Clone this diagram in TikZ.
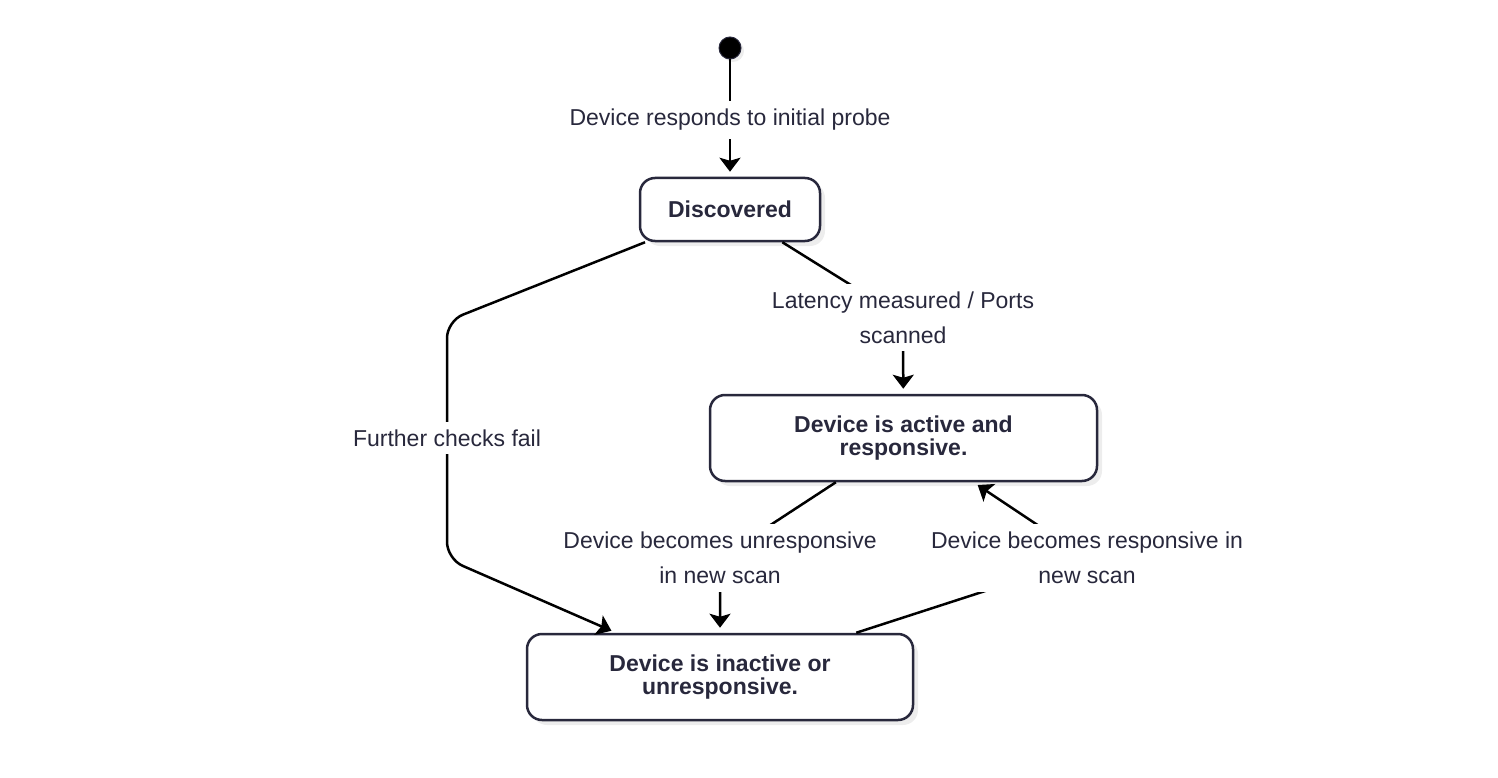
\documentclass[tikz,border=0pt]{standalone}
\usepackage{fontspec}
\setmainfont{Liberation Sans}
\usetikzlibrary{arrows.meta,shadows}
\definecolor{ink}{RGB}{40,40,60}
\begin{document}
\begin{tikzpicture}[x=1pt,y=-1pt,
  state/.style={draw=ink, line width=2.5pt, rounded corners=15pt, fill=white, text=ink,
    font=\fontsize{23}{23.5}\selectfont\bfseries, align=center, inner sep=0pt,
    drop shadow={shadow xshift=5pt,shadow yshift=-5pt,fill=black!7,opacity=1}},
  lbl/.style={fill=white, text=ink, font=\fontsize{23}{35}\selectfont, align=center,
    inner xsep=2pt, inner ysep=8pt},
  tr/.style={draw=black, line width=2.5pt, -{Stealth[length=14pt,width=21pt,inset=3pt]}, shorten >=5pt},
]
\useasboundingbox (0,0) rectangle (1498,778);

% states
\node[circle, fill=black, draw=ink, line width=1pt, minimum size=22pt, inner sep=0pt,
  drop shadow={shadow xshift=3pt,shadow yshift=-3pt,fill=black!7,opacity=1}] (start) at (730,48) {};
\node[state, minimum width=180pt, minimum height=63pt] (disc) at (730,209.5) {Discovered};
\node[state, minimum width=387pt, minimum height=86pt] (act) at (903.5,438) {Device is active and\\responsive.};
\node[state, minimum width=386pt, minimum height=86pt] (inact) at (720,677) {Device is inactive or\\unresponsive.};

% label centres and bends
\coordinate (c0) at (730,120);
\coordinate (c1) at (447,438);
\coordinate (c2) at (903,317.5);
\coordinate (c3) at (720,558);
\coordinate (c4) at (1087,558);
\coordinate (b1) at (447,321);
\coordinate (b2) at (447,559);

% transitions
\draw[tr] (start) -- (c0) -- (disc);
\draw[tr, rounded corners=17pt] ([xshift=-85pt]disc.south) -- (b1) -- (b2) -- ([xshift=-104pt]inact.north);
\draw[tr] (disc) -- (c2) -- (act);
\draw[tr] (act) -- (c3) -- (inact);
\draw[tr] (inact) -- (c4) -- ([xshift=70pt]act.south);

% labels
\node[lbl] (l0) at (c0) {Device responds to initial probe};
\node[lbl] (l1) at (c1) {Further checks fail};
\node[lbl] (l2) at (c2) {Latency measured / Ports\\scanned};
\node[lbl] (l3) at (c3) {Device becomes unresponsive\\in new scan};
\node[lbl] (l4) at (c4) {Device becomes responsive in\\new scan};
\end{tikzpicture}
\end{document}
